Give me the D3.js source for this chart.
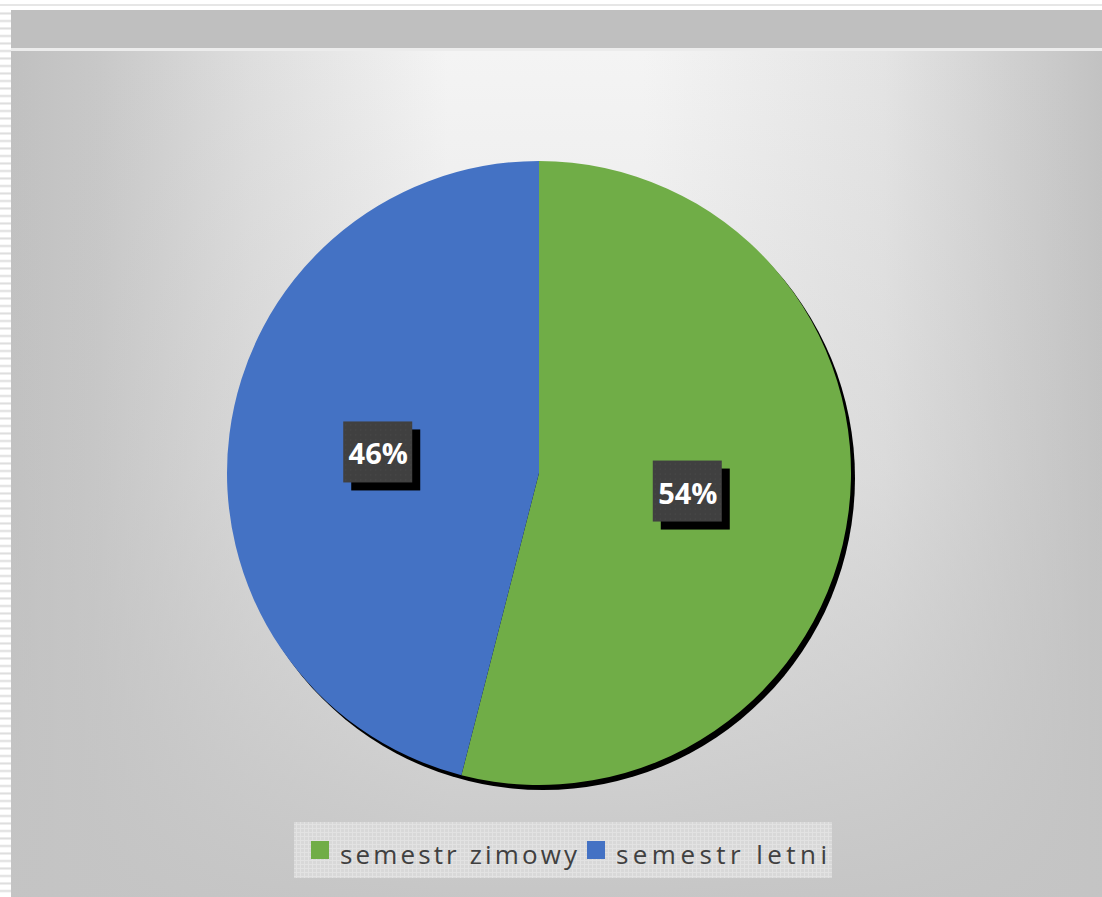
<!DOCTYPE html>
<html>
<head>
<meta charset="utf-8">
<script src="https://cdn.jsdelivr.net/npm/d3@7"></script>
<style>
  html, body { margin: 0; padding: 0; background: #ffffff; }
  svg { display: block; }
</style>
</head>
<body>
<div id="chart"></div>
<script>
// chart data
var categories = ["semestr zimowy", "semestr letni"];
var values = [54, 46];
var colours = ["#70ad47", "#4472c4"];

var W = 1102, H = 897;
var cx = 539, cy = 473, radius = 312;

var svg = d3.select("#chart").append("svg")
    .attr("width", W)
    .attr("height", H);

var defs = svg.append("defs");

// background: light band in the middle, grey at the sides
var hGrad = defs.append("linearGradient")
    .attr("id", "hGrad")
    .attr("gradientUnits", "userSpaceOnUse")
    .attr("x1", 11).attr("y1", 0).attr("x2", W).attr("y2", 0);
[[0, "#c0c0c0"], [0.08, "#c8c8c8"], [0.22, "#dedede"], [0.4, "#f4f4f4"],
 [0.58, "#f4f4f4"], [0.8, "#e4e4e4"], [1, "#c2c2c2"]].forEach(function(s) {
    hGrad.append("stop").attr("offset", s[0]).attr("stop-color", s[1]);
});

// fades to flat grey towards the bottom
var vGrad = defs.append("linearGradient")
    .attr("id", "vGrad")
    .attr("gradientUnits", "userSpaceOnUse")
    .attr("x1", 0).attr("y1", 50).attr("x2", 0).attr("y2", H);
vGrad.append("stop").attr("offset", 0).attr("stop-color", "#c4c4c4").attr("stop-opacity", 0);
vGrad.append("stop").attr("offset", 0.5).attr("stop-color", "#c4c4c4").attr("stop-opacity", 0.3);
vGrad.append("stop").attr("offset", 1).attr("stop-color", "#c4c4c4").attr("stop-opacity", 0.95);

// edge stripes
var stripe = defs.append("pattern")
    .attr("id", "stripe")
    .attr("patternUnits", "userSpaceOnUse")
    .attr("width", 11).attr("height", 7.5);
stripe.append("rect").attr("width", 11).attr("height", 7.5).attr("fill", "#ffffff");
stripe.append("rect").attr("y", 5).attr("width", 11).attr("height", 2).attr("fill", "#dddddd");

// legend grid texture
var grid = defs.append("pattern")
    .attr("id", "grid")
    .attr("patternUnits", "userSpaceOnUse")
    .attr("width", 4).attr("height", 4);
grid.append("rect").attr("width", 4).attr("height", 4).attr("fill", "#d8d8d8");
grid.append("rect").attr("width", 4).attr("height", 1).attr("fill", "#e2e2e2");
grid.append("rect").attr("width", 1).attr("height", 4).attr("fill", "#e2e2e2");

// label box dots
var dots = defs.append("pattern")
    .attr("id", "dots")
    .attr("patternUnits", "userSpaceOnUse")
    .attr("width", 5).attr("height", 5);
dots.append("rect").attr("width", 5).attr("height", 5).attr("fill", "#404040");
dots.append("rect").attr("x", 2).attr("y", 2).attr("width", 1).attr("height", 1).attr("fill", "#4c4c4c");

svg.append("rect").attr("width", W).attr("height", H).attr("fill", "#ffffff");
svg.append("rect").attr("x", 0).attr("y", 4).attr("width", W).attr("height", 2).attr("fill", "#e6e6e6");
svg.append("rect").attr("x", 0).attr("y", 10).attr("width", 11).attr("height", H - 10).attr("fill", "url(#stripe)");

svg.append("rect").attr("x", 11).attr("y", 10).attr("width", W - 11).attr("height", H - 10)
    .attr("fill", "url(#hGrad)");
svg.append("rect").attr("x", 11).attr("y", 10).attr("width", W - 11).attr("height", H - 10)
    .attr("fill", "url(#vGrad)");
svg.append("rect").attr("x", 11).attr("y", 10).attr("width", W - 11).attr("height", 38)
    .attr("fill", "#bfbfbf");
svg.append("rect").attr("x", 11).attr("y", 48).attr("width", W - 11).attr("height", 3)
    .attr("fill", "#ececec");

// pie
var pie = d3.pie().sort(null).value(function(d) { return d; });
var arc = d3.arc().innerRadius(0).outerRadius(radius);

var g = svg.append("g").attr("transform", "translate(" + cx + "," + cy + ")");

// shadow
g.append("circle")
    .attr("cx", 4).attr("cy", 5).attr("r", radius)
    .attr("fill", "#000000");

g.selectAll("path.slice")
    .data(pie(values))
    .enter().append("path")
    .attr("class", "slice")
    .attr("d", arc)
    .attr("fill", function(d, i) { return colours[i]; });

// data labels
var labels = g.selectAll("g.lbl")
    .data(pie(values))
    .enter().append("g")
    .attr("class", "lbl")
    .attr("transform", function(d) {
        var c = arc.centroid(d);
        return "translate(" + (c[0] - 6) + "," + (c[1] - 1) + ")";
    });

labels.append("rect")
    .attr("x", -27).attr("y", -23).attr("width", 69).attr("height", 61)
    .attr("fill", "#000000");
labels.append("rect")
    .attr("x", -35).attr("y", -31).attr("width", 69).attr("height", 61)
    .attr("fill", "url(#dots)");
labels.append("text")
    .attr("x", 0).attr("y", 12)
    .attr("text-anchor", "middle")
    .attr("font-family", "'Open Sans', sans-serif")
    .attr("font-weight", "bold")
    .attr("font-size", 29)
    .attr("fill", "#ffffff")
    .text(function(d) { return d.data + "%"; });

// legend
var legend = svg.append("g");
legend.append("rect")
    .attr("x", 294).attr("y", 822).attr("width", 538).attr("height", 56)
    .attr("fill", "url(#grid)");

var legendItems = [
    { sx: 311, tx: 340, tw: 237 },
    { sx: 587, tx: 616, tw: 211 }
];

var li = legend.selectAll("g.item")
    .data(categories)
    .enter().append("g")
    .attr("class", "item");

li.append("rect")
    .attr("x", function(d, i) { return legendItems[i].sx; })
    .attr("y", 841).attr("width", 18).attr("height", 18)
    .attr("fill", function(d, i) { return colours[i]; });

li.append("text")
    .attr("x", function(d, i) { return legendItems[i].tx; })
    .attr("y", 864)
    .attr("textLength", function(d, i) { return legendItems[i].tw; })
    .attr("lengthAdjust", "spacing")
    .attr("font-family", "'Open Sans', sans-serif")
    .attr("font-size", 26)
    .attr("fill", "#404040")
    .text(function(d) { return d; });
</script>
</body>
</html>
